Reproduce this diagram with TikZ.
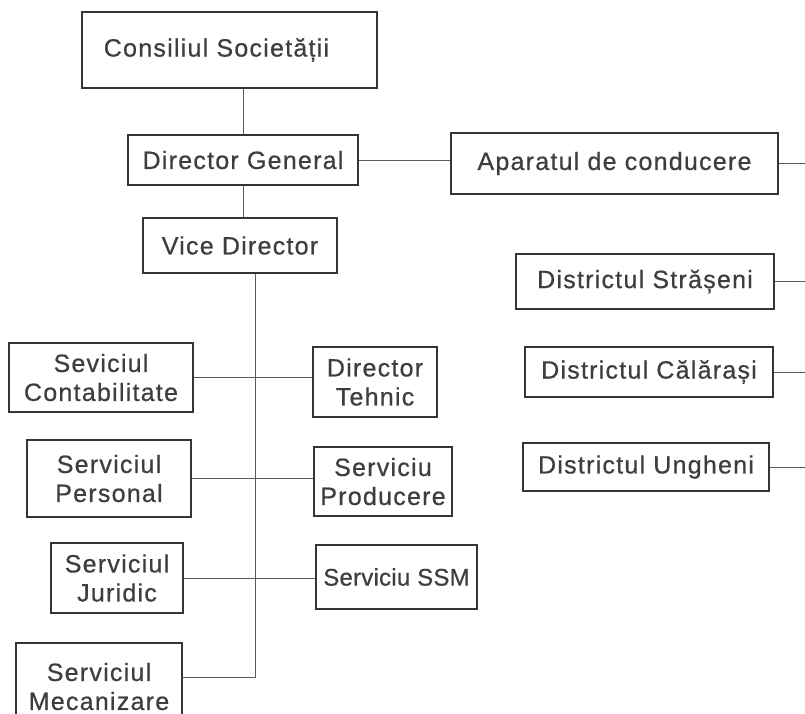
\documentclass[tikz,border=0pt]{standalone}
\usepackage{fontspec}
\setmainfont[LetterSpace=5,FakeBold=0.6]{Liberation Sans}
\definecolor{boxc}{HTML}{353535}
\definecolor{txtc}{HTML}{3E3E3E}
\definecolor{linec}{HTML}{5A5A5A}
\begin{document}
\begin{tikzpicture}[x=1pt,y=-1pt,
  box/.style={draw=boxc,line width=2.8pt,text=txtc,align=center,inner sep=0pt,
    font=\fontsize{25}{29}\selectfont},
  conn/.style={draw=linec,line width=0.9pt}]
\useasboundingbox (0,0) rectangle (805,714);
\clip (0,0) rectangle (805,714);
\fill[white] (0,0) rectangle (805,714);
% nodes
\node[box,minimum width=295pt,minimum height=76pt] (cs) at (229.5,50) {Consiliul Societății\hspace*{26pt}};
\node[box,minimum width=230pt,minimum height=50pt] (dg) at (243,160) {Director General};
\node[box,minimum width=327pt,minimum height=61pt] (ap) at (614.5,163.5) {Aparatul de conducere};
\node[box,minimum width=194pt,minimum height=55pt] (vd) at (240,245.5) {Vice Director};
\node[box,minimum width=184pt,minimum height=69pt] (sc) at (101,377.5) {Seviciul\\Contabilitate};
\node[box,minimum width=124pt,minimum height=70pt] (dt) at (375,382) {Director\\Tehnic};
\node[box,minimum width=164pt,minimum height=77pt] (sp) at (109,478.5) {Serviciul\\Personal};
\node[box,minimum width=138pt,minimum height=69pt] (spr) at (383,481.5) {Serviciu\\Producere};
\node[box,minimum width=132pt,minimum height=70pt] (sj) at (117,578) {Serviciul\\Juridic};
\node[box,minimum width=161pt,minimum height=64pt,
  font=\fontsize{24}{29}\selectfont\addfontfeatures{LetterSpace=1}] (ssm) at (396.5,577) {Serviciu SSM};
\node[box,minimum width=166pt,minimum height=87pt] (sm) at (99,686.5) {Serviciul\\Mecanizare};
\node[box,minimum width=258pt,minimum height=55pt] (ds) at (645,281.5) {Districtul Strășeni};
\node[box,minimum width=248pt,minimum height=50pt] (dc) at (649,372) {Districtul Călărași};
\node[box,minimum width=246pt,minimum height=48pt] (du) at (646,467) {Districtul Ungheni};
% coordinates
\coordinate (spx) at (255,677);
\coordinate (smx) at (182,677);
\coordinate (edge) at (805,0);
% connectors
\draw[conn] (dg.north) -- (dg.north |- cs.south);
\draw[conn] (dg.south) -- (dg.south |- vd.north);
\draw[conn] (dg.east) -- (dg.east -| ap.west);
\draw[conn] (vd.south -| spx) -- (spx) -- (smx);
\draw[conn] (sc.east) -- (sc.east -| dt.west);
\draw[conn] (sp.east) -- (sp.east -| spr.west);
\draw[conn] (sj.east) -- (sj.east -| ssm.west);
\draw[conn] (ap.east) -- (ap.east -| edge);
\draw[conn] (ds.east) -- (ds.east -| edge);
\draw[conn] (dc.east) -- (dc.east -| edge);
\draw[conn] (du.east) -- (du.east -| edge);
\end{tikzpicture}
\end{document}
